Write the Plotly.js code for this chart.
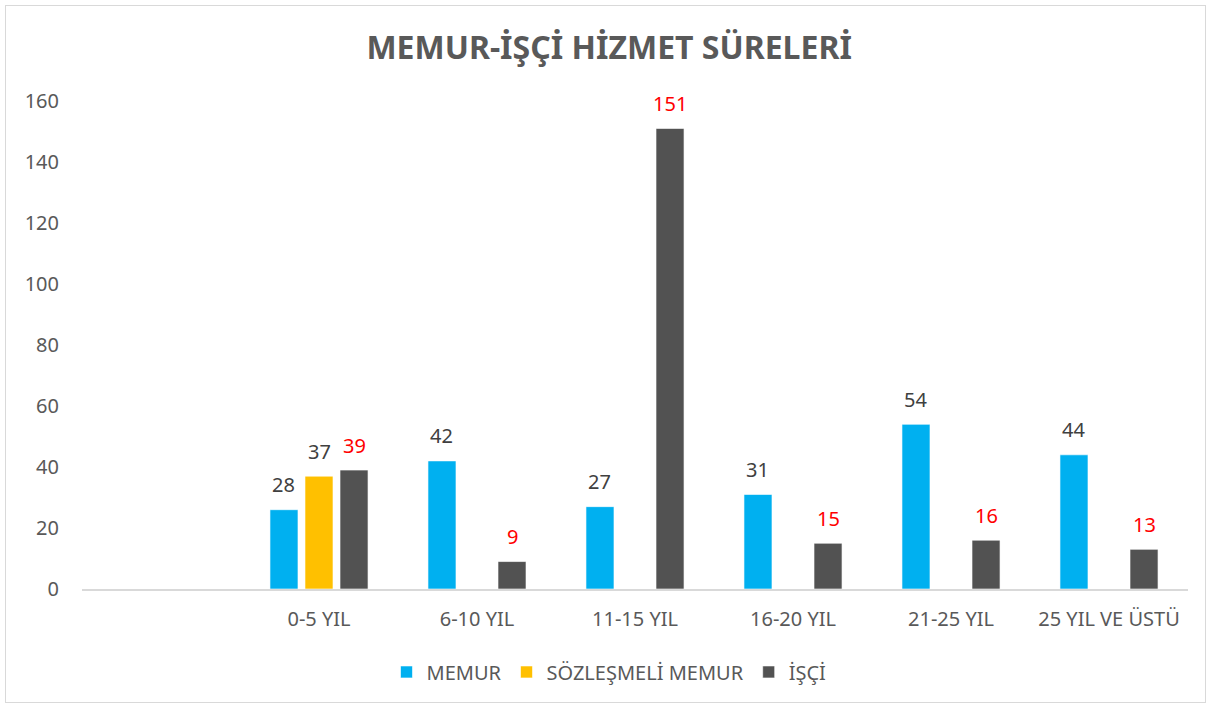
<!DOCTYPE html>
<html><head><meta charset="utf-8">
<script src="https://cdn.plot.ly/plotly-3.0.1.min.js"></script>
<style>
html,body{margin:0;padding:0;background:#fff;}
#chart{position:absolute;left:0;top:0;width:1211px;height:708px;}
#frame{position:absolute;left:5px;top:5px;width:1199px;height:696px;border:1px solid #d9d9d9;pointer-events:none;}
</style></head>
<body>
<div id="chart"></div><div id="frame"></div>
<script>
const categories = ["0-5 YIL", "6-10 YIL", "11-15 YIL", "16-20 YIL", "21-25 YIL", "25 YIL VE ÜSTÜ"];
const seriesNames = ["MEMUR", "SÖZLEŞMELİ MEMUR", "İŞÇİ"];
const memur = [26, 42, 27, 31, 54, 44];
const memurLabels = ["28", "42", "27", "31", "54", "44"];
const sozlesmeli = [37, null, null, null, null, null];
const sozlesmeliLabels = ["37", "", "", "", "", ""];
const isci = [39, 9, 151, 15, 16, 13];
const isciLabels = ["39", "9", "151", "15", "16", "13"];
const yTicks = [0, 20, 40, 60, 80, 100, 120, 140, 160];

const colors = ["#00B0F0", "#FFC000", "#525252"];
const labelColors = ["#404040", "#404040", "#FF0000"];
const FONT = "Noto Sans, Open Sans, sans-serif";
const bargap = 0.335, bargroupgap = 0.2;

const values = [memur, sozlesmeli, isci];
const labels = [memurLabels, sozlesmeliLabels, isciLabels];

const traces = values.map((v, k) => ({
  type: "bar", name: seriesNames[k], x: categories, y: v,
  marker: {color: colors[k], line: {color: "rgba(255,255,255,0.6)", width: 1}},
  hoverinfo: "x+y"
}));

const slot = (1 - bargap) / values.length;
const annotations = [];
values.forEach((v, k) => {
  v.forEach((val, i) => {
    if (val === null || !labels[k][i]) return;
    annotations.push({
      x: i + (k - (values.length - 1) / 2) * slot, y: val, xref: "x", yref: "y",
      text: labels[k][i], showarrow: false, yanchor: "middle", yshift: 25,
      font: {family: FONT, size: 20, color: labelColors[k]}
    });
  });
});

const layout = {
  width: 1211, height: 708,
  margin: {l: 82, r: 23, t: 101, b: 119, autoexpand: false},
  paper_bgcolor: "#fff", plot_bgcolor: "#fff",
  barmode: "group", bargap: bargap, bargroupgap: bargroupgap,
  title: {text: "<b>MEMUR-İŞÇİ HİZMET SÜRELERİ</b>", font: {family: FONT, size: 32, color: "#595959"},
          x: 0.503, xref: "container", xanchor: "center", y: 0.933, yref: "container", yanchor: "middle"},
  xaxis: {type: "category", range: [-1.5, 5.5], showgrid: false, zeroline: false, automargin: false,
          showline: true, linecolor: "#d9d9d9", linewidth: 1.5, ticks: "", tickangle: 0,
          tickfont: {family: FONT, size: 20, color: "#595959"}, ticklabelstandoff: 11, fixedrange: true},
  yaxis: {range: [0, 160], tickvals: yTicks, showgrid: false, zeroline: false, showline: false, ticks: "",
          automargin: false,
          tickfont: {family: FONT, size: 20, color: "#595959"}, ticklabelstandoff: 22, fixedrange: true},
  legend: {orientation: "h", x: 0.4765, xanchor: "center", y: -0.17, yanchor: "middle",
           font: {family: FONT, size: 20, color: "#595959"}, itemclick: false},
  annotations: annotations,
  showlegend: true
};

Plotly.newPlot("chart", traces, layout, {displayModeBar: false});
</script>
</body></html>
